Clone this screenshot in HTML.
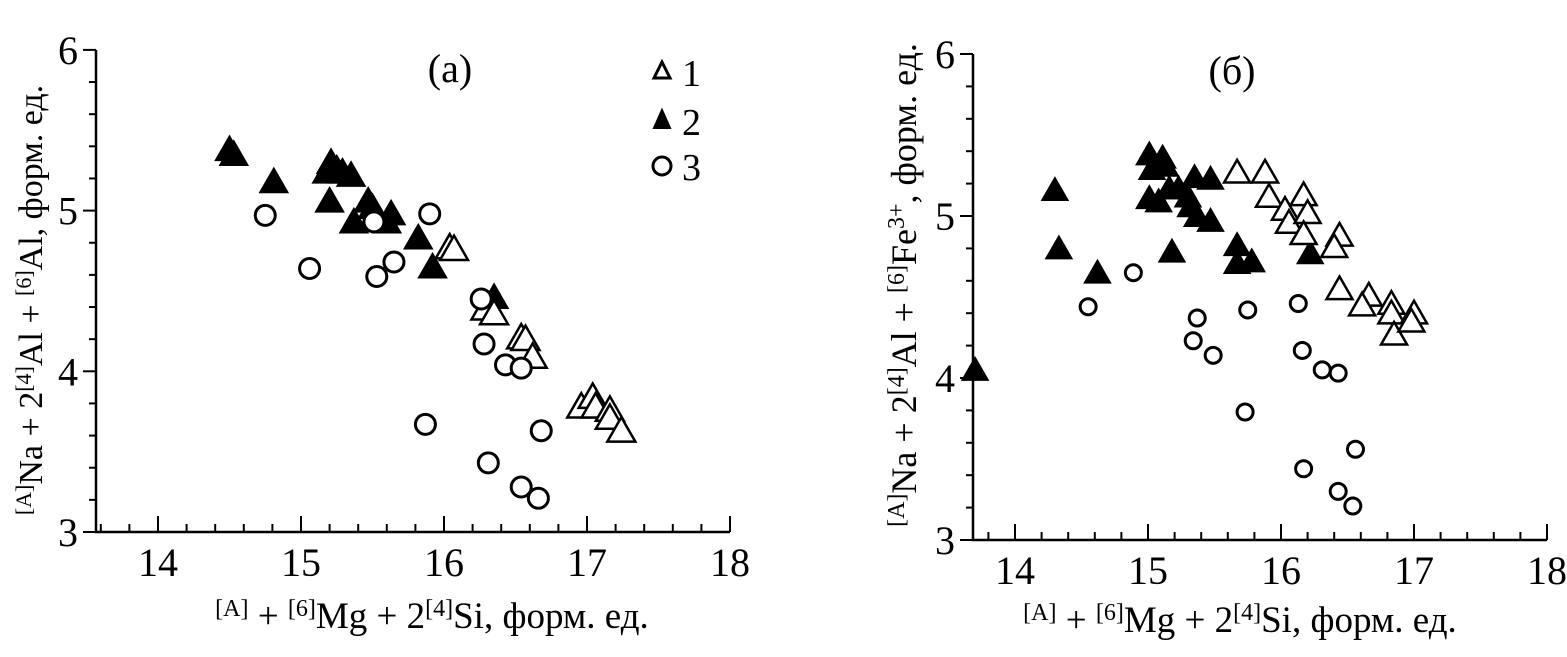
<!DOCTYPE html>
<html><head><meta charset="utf-8">
<style>
html,body{margin:0;padding:0;background:#fff;}
svg{display:block;font-family:"Liberation Serif","DejaVu Serif",serif;}
</style></head>
<body>
<svg id="chart" width="1567" height="657" viewBox="0 0 1567 657" xmlns="http://www.w3.org/2000/svg">
<rect width="1567" height="657" fill="#fff"/>
<g id="pa"></g>
<g id="pb"></g>
<text x="450" y="82" font-size="40" text-anchor="middle">(a)</text>
<text x="1232" y="84" font-size="40" text-anchor="middle">(б)</text>
<g>
<polygon points="662,62 670,78 654,78" fill="#fff" stroke="#000" stroke-width="3"/>
<text x="682" y="86" font-size="38">1</text>
<polygon points="662,110 670,128 654,128" fill="#000" stroke="#000" stroke-width="2"/>
<text x="682" y="135" font-size="38">2</text>
<circle cx="662" cy="166" r="9" fill="#fff" stroke="#000" stroke-width="3"/>
<text x="682" y="180" font-size="38">3</text>
</g>
<text x="432" y="628" font-size="37" text-anchor="middle"><tspan font-size="24" dy="-12">[A]</tspan><tspan dy="12"> + </tspan><tspan font-size="24" dy="-12">[6]</tspan><tspan dy="12">Mg + 2</tspan><tspan font-size="24" dy="-12">[4]</tspan><tspan dy="12">Si, форм. ед.</tspan></text>
<text x="1240" y="632" font-size="37" text-anchor="middle"><tspan font-size="24" dy="-12">[A]</tspan><tspan dy="12"> + </tspan><tspan font-size="24" dy="-12">[6]</tspan><tspan dy="12">Mg + 2</tspan><tspan font-size="24" dy="-12">[4]</tspan><tspan dy="12">Si, форм. ед.</tspan></text>
<text transform="translate(42,300) rotate(-90)" font-size="34" text-anchor="middle"><tspan font-size="22" dy="-11">[A]</tspan><tspan dy="11">Na + 2</tspan><tspan font-size="22" dy="-11">[4]</tspan><tspan dy="11">Al + </tspan><tspan font-size="22" dy="-11">[6]</tspan><tspan dy="11">Al, форм. ед.</tspan></text>
<text transform="translate(916,285) rotate(-90)" font-size="36" text-anchor="middle"><tspan font-size="24" dy="-12">[A]</tspan><tspan dy="12">Na + 2</tspan><tspan font-size="24" dy="-12">[4]</tspan><tspan dy="12">Al + </tspan><tspan font-size="24" dy="-12">[6]</tspan><tspan dy="12">Fe</tspan><tspan font-size="24" dy="-12">3+</tspan><tspan dy="12">, форм. ед.</tspan></text>
</svg>
<script>
const xTicks = [14, 15, 16, 17, 18];
const yTicks = [3, 4, 5, 6];
const xTickLabels = ["14", "15", "16", "17", "18"];
const yTickLabels = ["3", "4", "5", "6"];

const a1x = [16.04,16.07,16.29,16.35,16.54,16.57,16.62,16.96,17.04,17.06,17.16,17.16,17.24];
const a1y = [4.76,4.75,4.38,4.35,4.20,4.19,4.08,3.77,3.83,3.77,3.75,3.70,3.62];
const a2x = [14.50,14.53,14.81,15.21,15.18,15.25,15.29,15.35,15.20,15.37,15.47,15.50,15.63,15.60,15.82,15.92,16.35];
const a2y = [5.37,5.34,5.17,5.29,5.23,5.25,5.23,5.21,5.05,4.92,5.05,5.01,4.97,4.92,4.82,4.64,4.45];
const a3x = [14.75,15.06,15.51,15.53,15.65,15.90,16.26,16.28,16.43,16.54,15.87,16.68,16.31,16.54,16.66];
const a3y = [4.97,4.64,4.93,4.59,4.68,4.98,4.45,4.17,4.04,4.02,3.67,3.63,3.43,3.28,3.21];

const b1x = [15.67,15.88,15.91,16.03,16.06,16.17,16.20,16.17,16.44,16.40,16.44,16.66,16.61,16.83,16.83,16.85,17.00,16.98];
const b1y = [5.26,5.26,5.11,5.03,4.95,5.12,5.01,4.88,4.87,4.80,4.54,4.50,4.44,4.45,4.39,4.26,4.39,4.34];
const b2x = [13.70,14.30,14.33,14.62,15.01,15.11,15.13,15.03,15.01,15.08,15.16,15.23,15.30,15.35,15.47,15.32,15.37,15.47,15.18,15.67,15.67,15.78,16.22];
const b2y = [4.04,5.15,4.79,4.64,5.37,5.35,5.30,5.28,5.10,5.08,5.16,5.16,5.11,5.23,5.22,5.05,4.99,4.96,4.77,4.81,4.70,4.71,4.76];
const b3x = [14.55,14.89,15.37,15.34,15.49,15.75,15.73,16.13,16.16,16.31,16.43,16.56,16.17,16.43,16.54];
const b3y = [4.44,4.65,4.37,4.23,4.14,4.42,3.79,4.46,4.17,4.05,4.03,3.56,3.44,3.30,3.21];

const NS = "http://www.w3.org/2000/svg";
function mk(tag, attrs, parent){
  const e = document.createElementNS(NS, tag);
  for (const k in attrs) e.setAttribute(k, attrs[k]);
  parent.appendChild(e);
  return e;
}

function drawPanel(g, cfg, s1x, s1y, s2x, s2y, s3x, s3y, id){
  const sx = v => cfg.x14 + (v - 14) * cfg.xu;
  const sy = v => cfg.y3 - (v - 3) * cfg.yu;
  const left = cfg.left, right = sx(18), top = sy(6), bottom = cfg.y3;
  const ax = mk('path', {d:`M${left},${top} L${left},${bottom} L${right},${bottom}`, fill:'none', stroke:'#000', 'stroke-width':2.5}, g);
  
  
  for (let i = 0; i <= 15; i++){
    const v = 3 + i * 0.2;
    const major = i % 5 === 0;
    const t = mk('line', {x1:left - (major ? 13 : 7), x2:left, y1:sy(v), y2:sy(v), stroke:'#000', 'stroke-width':2}, g);
    
    
  }
  yTicks.forEach((v, i) => {
    const t = mk('text', {x:left - 18, y:sy(v) + 14, 'font-size':40, 'text-anchor':'end'}, g);
    t.textContent = yTickLabels[i];
    
    
  });
  for (let v = 13.6; v <= 18.001; v += 0.2){
    const px = sx(v);
    if (px < left + 3) continue;
    const major = Math.abs(v - Math.round(v)) < 0.01;
    const t = mk('line', {x1:px, x2:px, y1:bottom, y2:bottom - (major ? 16 : 8), stroke:'#000', 'stroke-width':2}, g);
    
    
  }
  xTicks.forEach((v, i) => {
    const t = mk('text', {x:sx(v), y:bottom + 44, 'font-size':40, 'text-anchor':'middle'}, g);
    t.textContent = xTickLabels[i];
    
    
  });
  const h = cfg.tri * 0.87;
  s2x.forEach((v, i) => {
    const cx = sx(v), cy = sy(s2y[i]);
    const p = mk('polygon', {points:`${cx},${cy - h*0.62} ${cx + cfg.tri/2},${cy + h*0.38} ${cx - cfg.tri/2},${cy + h*0.38}`, fill:'#000', stroke:'#000', 'stroke-width':1.5}, g);
    
    
  });
  s1x.forEach((v, i) => {
    const cx = sx(v), cy = sy(s1y[i]);
    const p = mk('polygon', {points:`${cx},${cy - h*0.62} ${cx + cfg.tri/2},${cy + h*0.38} ${cx - cfg.tri/2},${cy + h*0.38}`, fill:'#fff', stroke:'#000', 'stroke-width':2.5}, g);
    
    
  });
  s3x.forEach((v, i) => {
    const c = mk('circle', {cx:sx(v), cy:sy(s3y[i]), r:cfg.r, fill:'#fff', stroke:'#000', 'stroke-width':3}, g);
    
    
  });
}

drawPanel(document.getElementById('pa'), {x14:158, xu:143, left:96, y3:532, yu:160.7, tri:28, r:10},
  a1x, a1y, a2x, a2y, a3x, a3y, 'panel-a');
drawPanel(document.getElementById('pb'), {x14:1015, xu:133, left:973, y3:540, yu:162, tri:26, r:8},
  b1x, b1y, b2x, b2y, b3x, b3y, 'panel-b');
</script>
</body></html>
